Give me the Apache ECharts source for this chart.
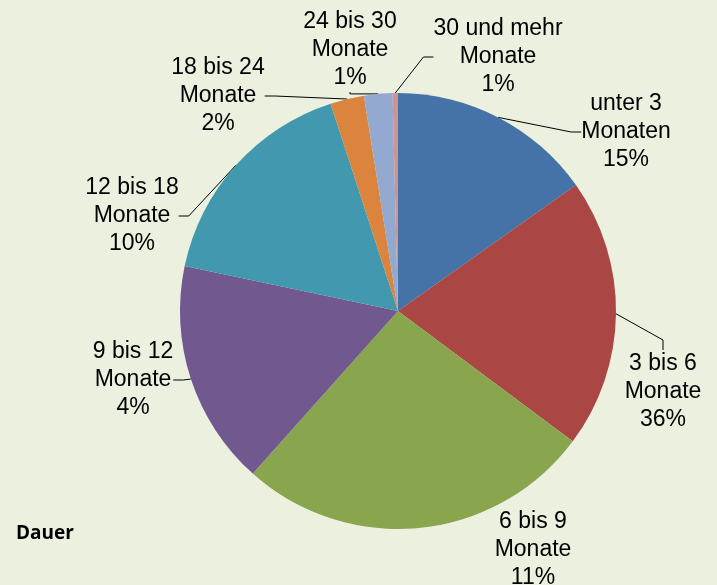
<!DOCTYPE html>
<html><head><meta charset="utf-8">
<script src="https://cdn.jsdelivr.net/npm/echarts@6/dist/echarts.min.js"></script>
<style>html,body{margin:0;padding:0;background:#EBF0DF;}#c{width:717px;height:585px;}</style>
</head><body><div id="c"></div>
<script>
const categories = ['unter 3 Monaten','3 bis 6 Monate','6 bis 9 Monate','9 bis 12 Monate','12 bis 18 Monate','18 bis 24 Monate','24 bis 30 Monate','30 und mehr Monate'];
const labelNames = ['unter 3\nMonaten','3 bis 6\nMonate','6 bis 9\nMonate','9 bis 12\nMonate','12 bis 18\nMonate','18 bis 24\nMonate','24 bis 30\nMonate','30 und mehr\nMonate'];
const labelPercents = ['15%','36%','11%','4%','10%','2%','1%','1%'];
const sliceValues = [15.2, 20.0, 26.4, 16.7, 16.7, 2.5, 2.1, 0.4];
const colors = ['#4572A7','#AA4643','#89A54E','#71588F','#4198AF','#DB843D','#93A9CF','#D19392'];
const labelPos = [[626,132],[663,392],[533,550],[133,380],[132,216],[218,96],[350,50],[498,57]];
const showLine = [true,true,false,true,true,true,true,true];

const chart = echarts.init(document.getElementById('c'));
chart.setOption({
  backgroundColor: '#EBF0DF',
  animation: false,
  title: {text: 'Dauer', left: 11, top: 519, textStyle: {fontFamily: 'Open Sans', fontSize: 19, fontWeight: 'bold', color: '#000'}},
  series: [{
    type: 'pie',
    center: [398, 311],
    radius: [0, 218],
    startAngle: 90,
    clockwise: true,
    avoidLabelOverlap: false,
    data: categories.map((c, i) => ({name: c, value: sliceValues[i], itemStyle: {color: colors[i]}, labelLine: {show: showLine[i]}})),
    label: {
      show: true,
      formatter: p => labelNames[p.dataIndex] + '\n' + labelPercents[p.dataIndex],
      fontFamily: 'Liberation Sans, Arial',
      fontSize: 23,
      lineHeight: 28,
      color: '#000',
      align: 'center'
    },
    labelLine: {show: true, length: 10, length2: 10, lineStyle: {color: '#000', width: 1}},
    labelLayout: p => ({x: labelPos[p.dataIndex][0], y: labelPos[p.dataIndex][1], align: 'center', verticalAlign: 'middle'})
  }]
});
</script></body></html>
